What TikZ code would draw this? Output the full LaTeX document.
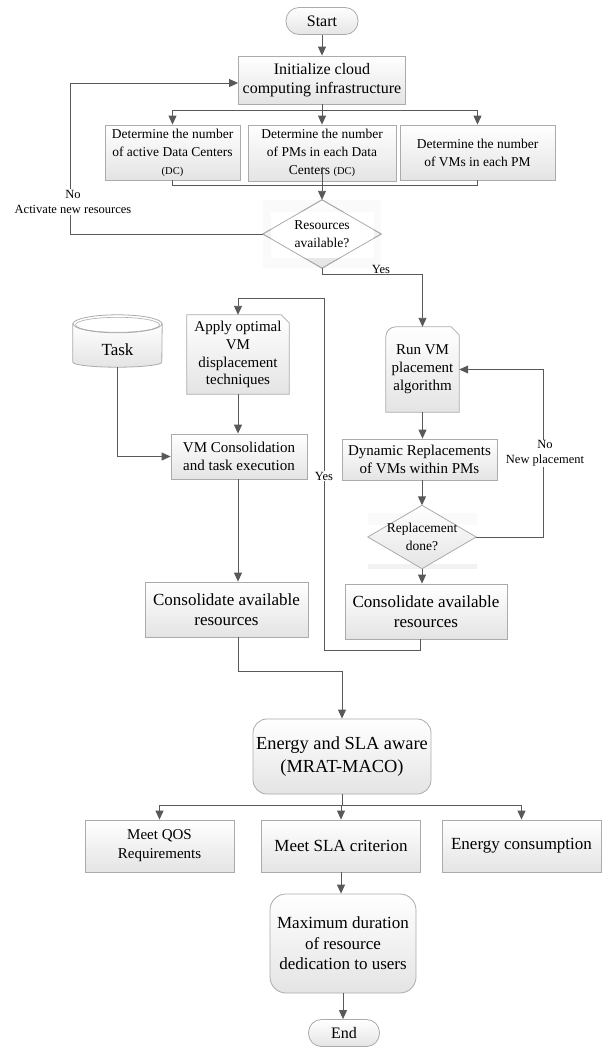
\documentclass[tikz,border=0pt]{standalone}
\usepackage{fontspec}
\setmainfont{Liberation Serif}
\usetikzlibrary{arrows.meta,backgrounds,calc}
\definecolor{linec}{HTML}{595959}
\definecolor{bordc}{HTML}{ABABAB}
\definecolor{shadec}{HTML}{E4E4E4}
\newcommand{\dcsmall}{\fontsize{10.5}{12}\selectfont}
\begin{document}
\begin{tikzpicture}[x=1pt,y=-1pt,
  conn/.style={draw=linec,line width=0.9pt},
  arr/.style={conn,-{Triangle[length=9pt,width=8pt]}},
  shadefill/.style={draw=bordc,line width=0.8pt,top color=white,bottom color=shadec},
  box/.style={shadefill,inner sep=0pt,align=center},
  plain/.style={inner sep=0pt,align=center},
  lbl/.style={fill=white,inner sep=1pt,align=center,font=\fontsize{12.5}{15}\selectfont},
  fA/.style={font=\fontsize{16}{19}\selectfont},
  fB/.style={font=\fontsize{13.5}{18}\selectfont},
  fC/.style={font=\fontsize{15}{17.8}\selectfont},
  fQ/.style={font=\fontsize{15}{19}\selectfont},
  fE/.style={font=\fontsize{17}{20.5}\selectfont},
  fF/.style={font=\fontsize{18.4}{23}\selectfont}]
\useasboundingbox (0,0) rectangle (608,1047);

% nodes
\node[box,fA,rounded corners=13pt,minimum width=72pt,minimum height=27pt] (start) at (322,21) {Start};
\node[box,fA,minimum width=167pt,minimum height=48pt] (init) at (322,80) {Initialize cloud\\computing infrastructure};
\node[box,fB,minimum width=135pt,minimum height=55pt] (dc) at (172.5,152.5) {Determine the number\\of active Data Centers\\{\dcsmall (DC)}};
\node[box,fB,minimum width=148pt,minimum height=56pt] (pm) at (322,153) {Determine the number\\of PMs in each Data\\Centers {\dcsmall (DC)}};
\node[box,fB,minimum width=155pt,minimum height=55pt] (vm) at (477.5,152.5) {Determine the number\\of VMs in each PM};
\node[plain,fB,minimum width=118pt,minimum height=68pt] (dia1) at (322,234) {Resources\\available?};
\node[plain,minimum width=89pt,minimum height=52pt] (task) at (117.5,341) {};
\node[plain,fE] (tasktext) at (117.5,350) {Task};
\node[plain,fC,minimum width=102pt,minimum height=79pt] (apply) at (238,354.5) {Apply optimal\\VM\\displacement\\techniques};
\node[box,fC,minimum width=136pt,minimum height=45pt] (vmcons) at (239,456.5) {VM Consolidation\\and task execution};
\node[box,fE,minimum width=163pt,minimum height=55pt] (consl) at (226.5,609.5) {Consolidate available\\resources};
\node[plain,fC,minimum width=73pt,minimum height=85pt] (runvm) at (422.5,369.5) {Run VM\\placement\\algorithm};
\node[box,fC,minimum width=155pt,minimum height=41pt] (dyn) at (419.5,459.5) {Dynamic Replacements\\of VMs within PMs};
\node[plain,fB,minimum width=108pt,minimum height=63pt] (dia2) at (422,537) {Replacement\\done?};
\node[box,fE,minimum width=162pt,minimum height=55pt] (consr) at (426,611.5) {Consolidate available\\resources};
\node[box,fF,rounded corners=14pt,minimum width=178pt,minimum height=75pt] (energy) at (342,756.5) {Energy and SLA aware\\(MRAT-MACO)};
\node[box,fQ,minimum width=149pt,minimum height=52pt] (qos) at (159.5,846) {Meet QOS\\Requirements};
\node[box,fE,minimum width=159pt,minimum height=52pt] (sla) at (341,846) {Meet SLA criterion};
\node[box,fE,minimum width=159pt,minimum height=52pt] (enc) at (521.5,846) {Energy consumption};
\node[box,fE,rounded corners=16pt,minimum width=146pt,minimum height=99pt] (max) at (343,943.5) {Maximum duration\\of resource\\dedication to users};
\node[box,fA,rounded corners=13pt,minimum width=71pt,minimum height=27pt] (end) at (344,1033) {End};

% custom shapes behind text
\begin{scope}[on background layer]
  \fill[gray!4] (263,200) rectangle (381,268);
  \path[shadefill] (dia1.north) -- (dia1.east) -- (dia1.south) -- (dia1.west) -- cycle;
  \fill[white] (271,212) rectangle (374,258);
  \draw[bordc,line width=0.8pt] (dia1.north) -- (dia1.east) -- (dia1.south) -- (dia1.west) -- cycle;
  \fill[gray!4] (368,513) rectangle (477,525);
  \fill[gray!10] (368,564) rectangle (477,569);
  \path[shadefill] (dia2.north) -- (dia2.east) -- (dia2.south) -- (dia2.west) -- cycle;
  \path[shadefill] (apply.south west) -- (apply.north west) -- ([xshift=-8pt]apply.north east) -- ([yshift=-8pt]apply.north east) -- (apply.south east) -- cycle;
  \path[shadefill] (runvm.south west) -- ([yshift=-10pt]runvm.north west) arc[start angle=180,end angle=90,radius=10pt] -- ([xshift=-8pt]runvm.north east) -- ([yshift=-8pt]runvm.north east) -- (runvm.south east) -- cycle;
  \path[shadefill] ([yshift=-9pt]task.north west) -- ([yshift=5pt]task.south west) arc[start angle=180,end angle=360,x radius=44.5pt,y radius=5pt] -- ([yshift=-9pt]task.north east) -- cycle;
  \path[draw=bordc,line width=0.8pt,fill=white] ([yshift=-9pt]task.north) ellipse[x radius=44.5pt,y radius=9pt];
  \draw[bordc,line width=0.6pt] ([yshift=-10pt]task.north) ellipse[x radius=42pt,y radius=7.5pt];
\end{scope}

% connectors
\draw[arr] (start.south) -- (init.north);
\draw[conn] (init.south) -- ++(0,6) coordinate (b1);
\draw[conn] (dc.north |- b1) -- (vm.north |- b1);
\draw[arr] (dc.north |- b1) -- (dc.north);
\draw[arr] (b1) -- (pm.north);
\draw[arr] (vm.north |- b1) -- (vm.north);
\draw[conn] (dc.south) -- ++(0,5) -| (vm.south);
\draw[arr] ([yshift=14pt]pm.south) -- (dia1.north);

\coordinate (nocorner) at (70,234);
\draw[arr] (dia1.west) -- (nocorner) |- ([yshift=-3pt]init.west);
\node[lbl] (nolab) at (73,202) {No\\Activate new resources};

\draw[arr] (dia1.south) -- ++(0,6) -| (runvm.north);
\node[lbl] (yes1) at (381,269) {Yes};

\draw[arr] (task.south) |- (vmcons.west);
\draw[arr] (apply.south) -- (apply.south |- vmcons.north);
\draw[arr] (vmcons.south -| apply.south) -- (apply.south |- consl.north);

\coordinate (lp1) at (324,650);
\coordinate (lp2) at (324,298);
\draw[arr] ([xshift=-6pt]consr.south) |- (lp1) -- (lp2) -| (apply.north);
\node[lbl] (yes2) at (324,476) {Yes};

\draw[arr] (runvm.south) -- (runvm.south |- dyn.north);
\draw[arr] (dyn.south -| dia2.north) -- (dia2.north);
\draw[arr] (dia2.south) -- (dia2.south |- consr.north);
\coordinate (no2c) at (543,537);
\draw[arr] (dia2.east) -- (no2c) |- (runvm.east);
\node[lbl] (nolab2) at (545,453.5) {No\\New placement};

\coordinate (cj) at (238,671);
\draw[arr] (consl.south -| apply.south) -- (cj) -| (energy.north);
\draw[conn] (energy.south) -- ++(0,11) coordinate (b2);
\draw[conn] (qos.north |- b2) -- (enc.north |- b2);
\draw[arr] (qos.north |- b2) -- (qos.north);
\draw[arr] (sla.north |- b2) -- (sla.north);
\draw[arr] (enc.north |- b2) -- (enc.north);
\draw[arr] (sla.south) -- (sla.south |- max.north);
\draw[arr] (max.south) -- (max.south |- end.north);
\end{tikzpicture}
\end{document}
